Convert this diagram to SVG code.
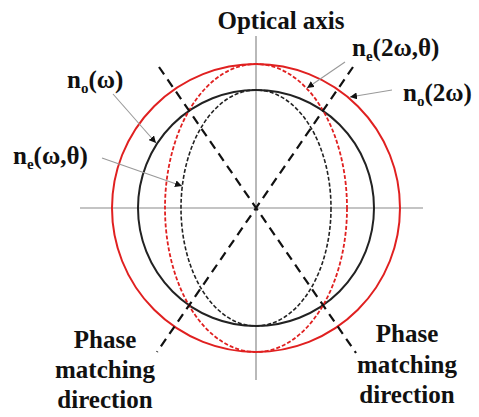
<svg xmlns="http://www.w3.org/2000/svg" width="479" height="417" viewBox="0 0 479 417">
<style>
text{font-family:'Liberation Serif','Times New Roman','DejaVu Serif',serif;font-weight:bold;font-size:25px;fill:#111}
.sub{font-size:15px}
.axis{stroke:#8a8a8a;stroke-width:1.2;fill:none}
.pm{stroke:#111;stroke-width:2.2;stroke-dasharray:9 6;fill:none}
.leader{stroke:#999;stroke-width:1.1;fill:none;marker-end:url(#ah)}
</style>
<defs>
<marker id="ah" viewBox="0 0 10 10" refX="10" refY="5" markerWidth="7" markerHeight="7" markerUnits="userSpaceOnUse" orient="auto">
<path d="M0,0 L10,5 L0,10 z" fill="#111"/>
</marker>
</defs>
<rect width="479" height="417" fill="#fff"/>
<g id="axes">
<line class="axis" x1="80" y1="208" x2="423" y2="208"/>
<line class="axis" x1="256" y1="36" x2="256" y2="380"/>
</g>
<g id="no2w-circle"><circle cx="256" cy="208" r="144" fill="none" stroke="#e02020" stroke-width="2"/></g>
<g id="now-circle"><circle cx="256" cy="208" r="118" fill="none" stroke="#222" stroke-width="2"/></g>
<g id="ne2w-ellipse"><ellipse cx="256" cy="208" rx="91" ry="144" fill="none" stroke="#e02020" stroke-width="1.8" stroke-dasharray="4 2"/></g>
<g id="new-ellipse"><ellipse cx="256" cy="208" rx="75" ry="118" fill="none" stroke="#222" stroke-width="1.6" stroke-dasharray="4 2"/></g>
<g id="connectors">
<line class="pm" x1="159" y1="67" x2="356" y2="353"/>
<line class="pm" x1="353" y1="67" x2="157" y2="352"/>
<line class="leader" x1="113" y1="94" x2="156" y2="143"/>
<line class="leader" x1="102" y1="158" x2="182" y2="186"/>
<line class="leader" x1="345" y1="62" x2="307" y2="88"/>
<line class="leader" x1="392" y1="90" x2="350" y2="97"/>
</g>
<g id="label-optical-axis"><text x="281" y="29" text-anchor="middle" font-size="26">Optical axis</text></g>
<g id="label-now"><text x="67" y="88">n<tspan class="sub" dy="5">o</tspan><tspan dy="-5">(ω)</tspan></text></g>
<g id="label-new"><text x="13" y="164">n<tspan class="sub" dy="5">e</tspan><tspan dy="-5">(ω,θ)</tspan></text></g>
<g id="label-ne2w"><text x="352" y="56">n<tspan class="sub" dy="5">e</tspan><tspan dy="-5">(2ω,θ)</tspan></text></g>
<g id="label-no2w"><text x="403" y="101">n<tspan class="sub" dy="5">o</tspan><tspan dy="-5">(2ω)</tspan></text></g>
<g id="label-pm-left">
<text text-anchor="middle" x="105" y="348">Phase</text>
<text text-anchor="middle" x="105" y="378">matching</text>
<text text-anchor="middle" x="105" y="408">direction</text>
</g>
<g id="label-pm-right">
<text text-anchor="middle" x="407" y="342">Phase</text>
<text text-anchor="middle" x="407" y="373">matching</text>
<text text-anchor="middle" x="407" y="403">direction</text>
</g>
</svg>
